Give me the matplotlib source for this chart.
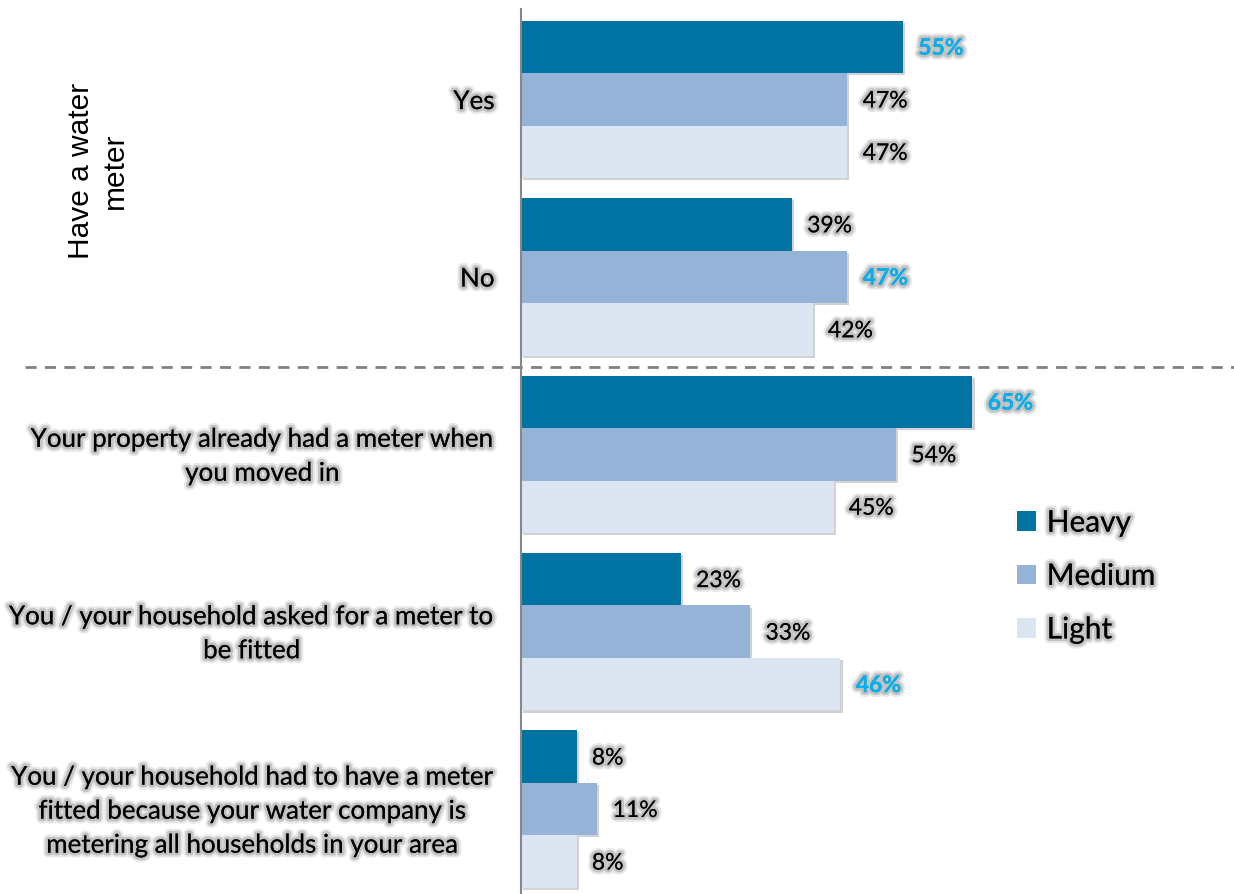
import matplotlib
matplotlib.use("Agg")
import matplotlib.pyplot as plt
import matplotlib.patheffects as pe
from matplotlib.patches import Patch
from matplotlib.lines import Line2D

# Survey data (% of respondents)
categories = [
    "Yes",
    "No",
    "Your property already had a meter when\nyou moved in",
    "You / your household asked for a meter to\nbe fitted",
    "You / your household had to have a meter\nfitted because your water company is\nmetering all households in your area",
]
series_names = ["Heavy", "Medium", "Light"]
heavy = [55, 39, 65, 23, 8]
medium = [47, 47, 54, 33, 11]
light = [47, 42, 45, 46, 8]
# which bar in each group carries the highlighted label (index into series)
highlight = [0, 1, 0, 2, None]
section_title = "Have a water\nmeter"

colors = ["#0073A3", "#95B3D7", "#DCE6F2"]
highlight_color = "#00B0F0"
body_font = ["Lato", "DejaVu Sans"]

glow = [
    pe.Stroke(linewidth=7, foreground=(0.55, 0.55, 0.55, 0.2)),
    pe.Stroke(linewidth=4, foreground=(0.55, 0.55, 0.55, 0.4)),
    pe.Normal(),
]
bar_shadow = [pe.SimplePatchShadow(offset=(1.5, -1.5), shadow_rgbFace=(0.5, 0.5, 0.5), alpha=0.35), pe.Normal()]

W, H = 1234, 895
fig = plt.figure(figsize=(W / 100, H / 100), dpi=100)
ax = fig.add_axes([521 / W, 0, (W - 521) / W, 1])

px_per_unit = 6.945
ax.set_xlim(0, (W - 521) / px_per_unit)
pitch = 177.4
top_center = 100.5
ax.set_ylim((H - top_center) / pitch, -top_center / pitch)

bar_h = 52.5 / pitch
values = [heavy, medium, light]
for s, vals in enumerate(values):
    ys = [i + (s - 1) * bar_h for i in range(len(categories))]
    bars = ax.barh(ys, vals, height=bar_h, color=colors[s], zorder=2)
    for b in bars:
        b.set_path_effects(bar_shadow)
    for i, (y, v) in enumerate(zip(ys, vals)):
        hl = highlight[i] == s
        ax.annotate(f"{v}%", xy=(v, y), xytext=(11, -1), textcoords="offset points",
                    ha="left", va="center", fontsize=16.5, family=body_font,
                    color=highlight_color if hl else "black",
                    fontweight="bold" if hl else "normal",
                    path_effects=glow, zorder=3)

# category labels to the left of the axis
for i, cat in enumerate(categories):
    ax.annotate(cat, xy=(0, i), xytext=(-19, -1.5), textcoords="offset points",
                ha="right", va="center", multialignment="center",
                fontsize=18.7, family=body_font, path_effects=glow,
                annotation_clip=False, linespacing=1.45)

# section title, rotated
fig.text(98 / W, 1 - 171 / H, section_title, rotation=90, ha="center", va="center",
         multialignment="center", fontsize=21.5, family="Liberation Sans", linespacing=1.25)

# dashed separator between the two question blocks
sep_y = 1.508
ax.add_line(Line2D([-(521 - 25) / px_per_unit, (W - 521) / px_per_unit], [sep_y, sep_y],
                   color="#808080", linestyle=(0, (4, 3)), linewidth=2, clip_on=False))

ax.set_xticks([])
ax.set_yticks([])
for side in ["top", "right", "bottom"]:
    ax.spines[side].set_visible(False)
ax.spines["left"].set_color("#888888")
ax.spines["left"].set_linewidth(1.5)
ax.spines["left"].set_bounds(ax.get_ylim()[0], -(top_center - 10) / pitch)

handles = [Patch(facecolor=c, edgecolor="none") for c in colors]
leg = ax.legend(handles, series_names, loc="center left",
                bbox_to_anchor=(990 / W, 1 - 577 / H), bbox_transform=fig.transFigure,
                frameon=False, handlelength=0.65, handleheight=0.65, handletextpad=0.35,
                labelspacing=0.85, prop={"family": body_font, "size": 21.5})
for t in leg.get_texts():
    t.set_path_effects(glow)

fig.savefig("out.png", dpi=100)
